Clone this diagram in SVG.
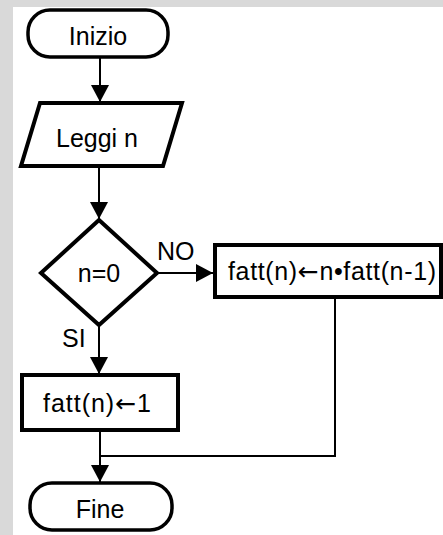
<svg xmlns="http://www.w3.org/2000/svg" width="443" height="535" viewBox="0 0 443 535">
<style>
.bg{fill:#d9d9d9}
.shape{fill:#fff;stroke:#000;stroke-width:4;stroke-linejoin:miter}
.term{fill:#fff;stroke:#000;stroke-width:3.5}
.lbl{font-family:"Liberation Sans",Arial,sans-serif;font-size:25px;fill:#000}
.ar{font-family:"DejaVu Sans",sans-serif;font-size:25px}
.conn{fill:none;stroke:#000;stroke-width:2}
</style>
<defs>
<marker id="arr" markerUnits="userSpaceOnUse" markerWidth="18" markerHeight="18" refX="17" refY="9" orient="auto">
<path d="M0,0 L17,9 L0,18 z" fill="#000"/>
</marker>
</defs>
<rect x="0" y="0" width="443" height="535" fill="#fff"/>
<rect class="bg" x="0" y="0" width="443" height="7"/>
<rect class="bg" x="0" y="0" width="13" height="535"/>
<g id="connectors">
<line class="conn" x1="100" y1="58" x2="100" y2="102" marker-end="url(#arr)"/>
<line class="conn" x1="99" y1="166" x2="99" y2="219" marker-end="url(#arr)"/>
<line class="conn" x1="157" y1="273" x2="213" y2="273" marker-end="url(#arr)"/>
<line class="conn" x1="99" y1="325" x2="99" y2="374" marker-end="url(#arr)"/>
<line class="conn" x1="100" y1="430" x2="100" y2="482" marker-end="url(#arr)"/>
<polyline class="conn" points="335,298 335,456 100,456"/>
</g>
<g id="inizio">
<rect class="term" x="28" y="10" width="140" height="47" rx="22" ry="22"/>
<text class="lbl" x="98" y="45" text-anchor="middle">Inizio</text>
</g>
<g id="leggi">
<polygon class="shape" points="40,103 182,103 163,166 21,166"/>
<text class="lbl" x="97" y="147" text-anchor="middle">Leggi n</text>
</g>
<g id="decision">
<polygon class="shape" points="99,220 157,273 99,325 41,273"/>
<text class="lbl" x="99" y="282" text-anchor="middle">n=0</text>
<text class="lbl" x="157" y="260">NO</text>
<text class="lbl" x="62" y="347">SI</text>
</g>
<g id="recur">
<rect class="shape" x="215" y="245" width="226" height="52"/>
<text class="lbl" x="228" y="280" textLength="208" lengthAdjust="spacing">fatt(n)<tspan class="ar">←</tspan>n•fatt(n-1)</text>
</g>
<g id="base">
<rect class="shape" x="22" y="375" width="156" height="55"/>
<text class="lbl" x="43" y="412" textLength="108" lengthAdjust="spacing">fatt(n)<tspan class="ar">←</tspan>1</text>
</g>
<g id="fine">
<rect class="term" x="30" y="483" width="142" height="47" rx="22" ry="22"/>
<text class="lbl" x="100" y="518" text-anchor="middle">Fine</text>
</g>
</svg>
